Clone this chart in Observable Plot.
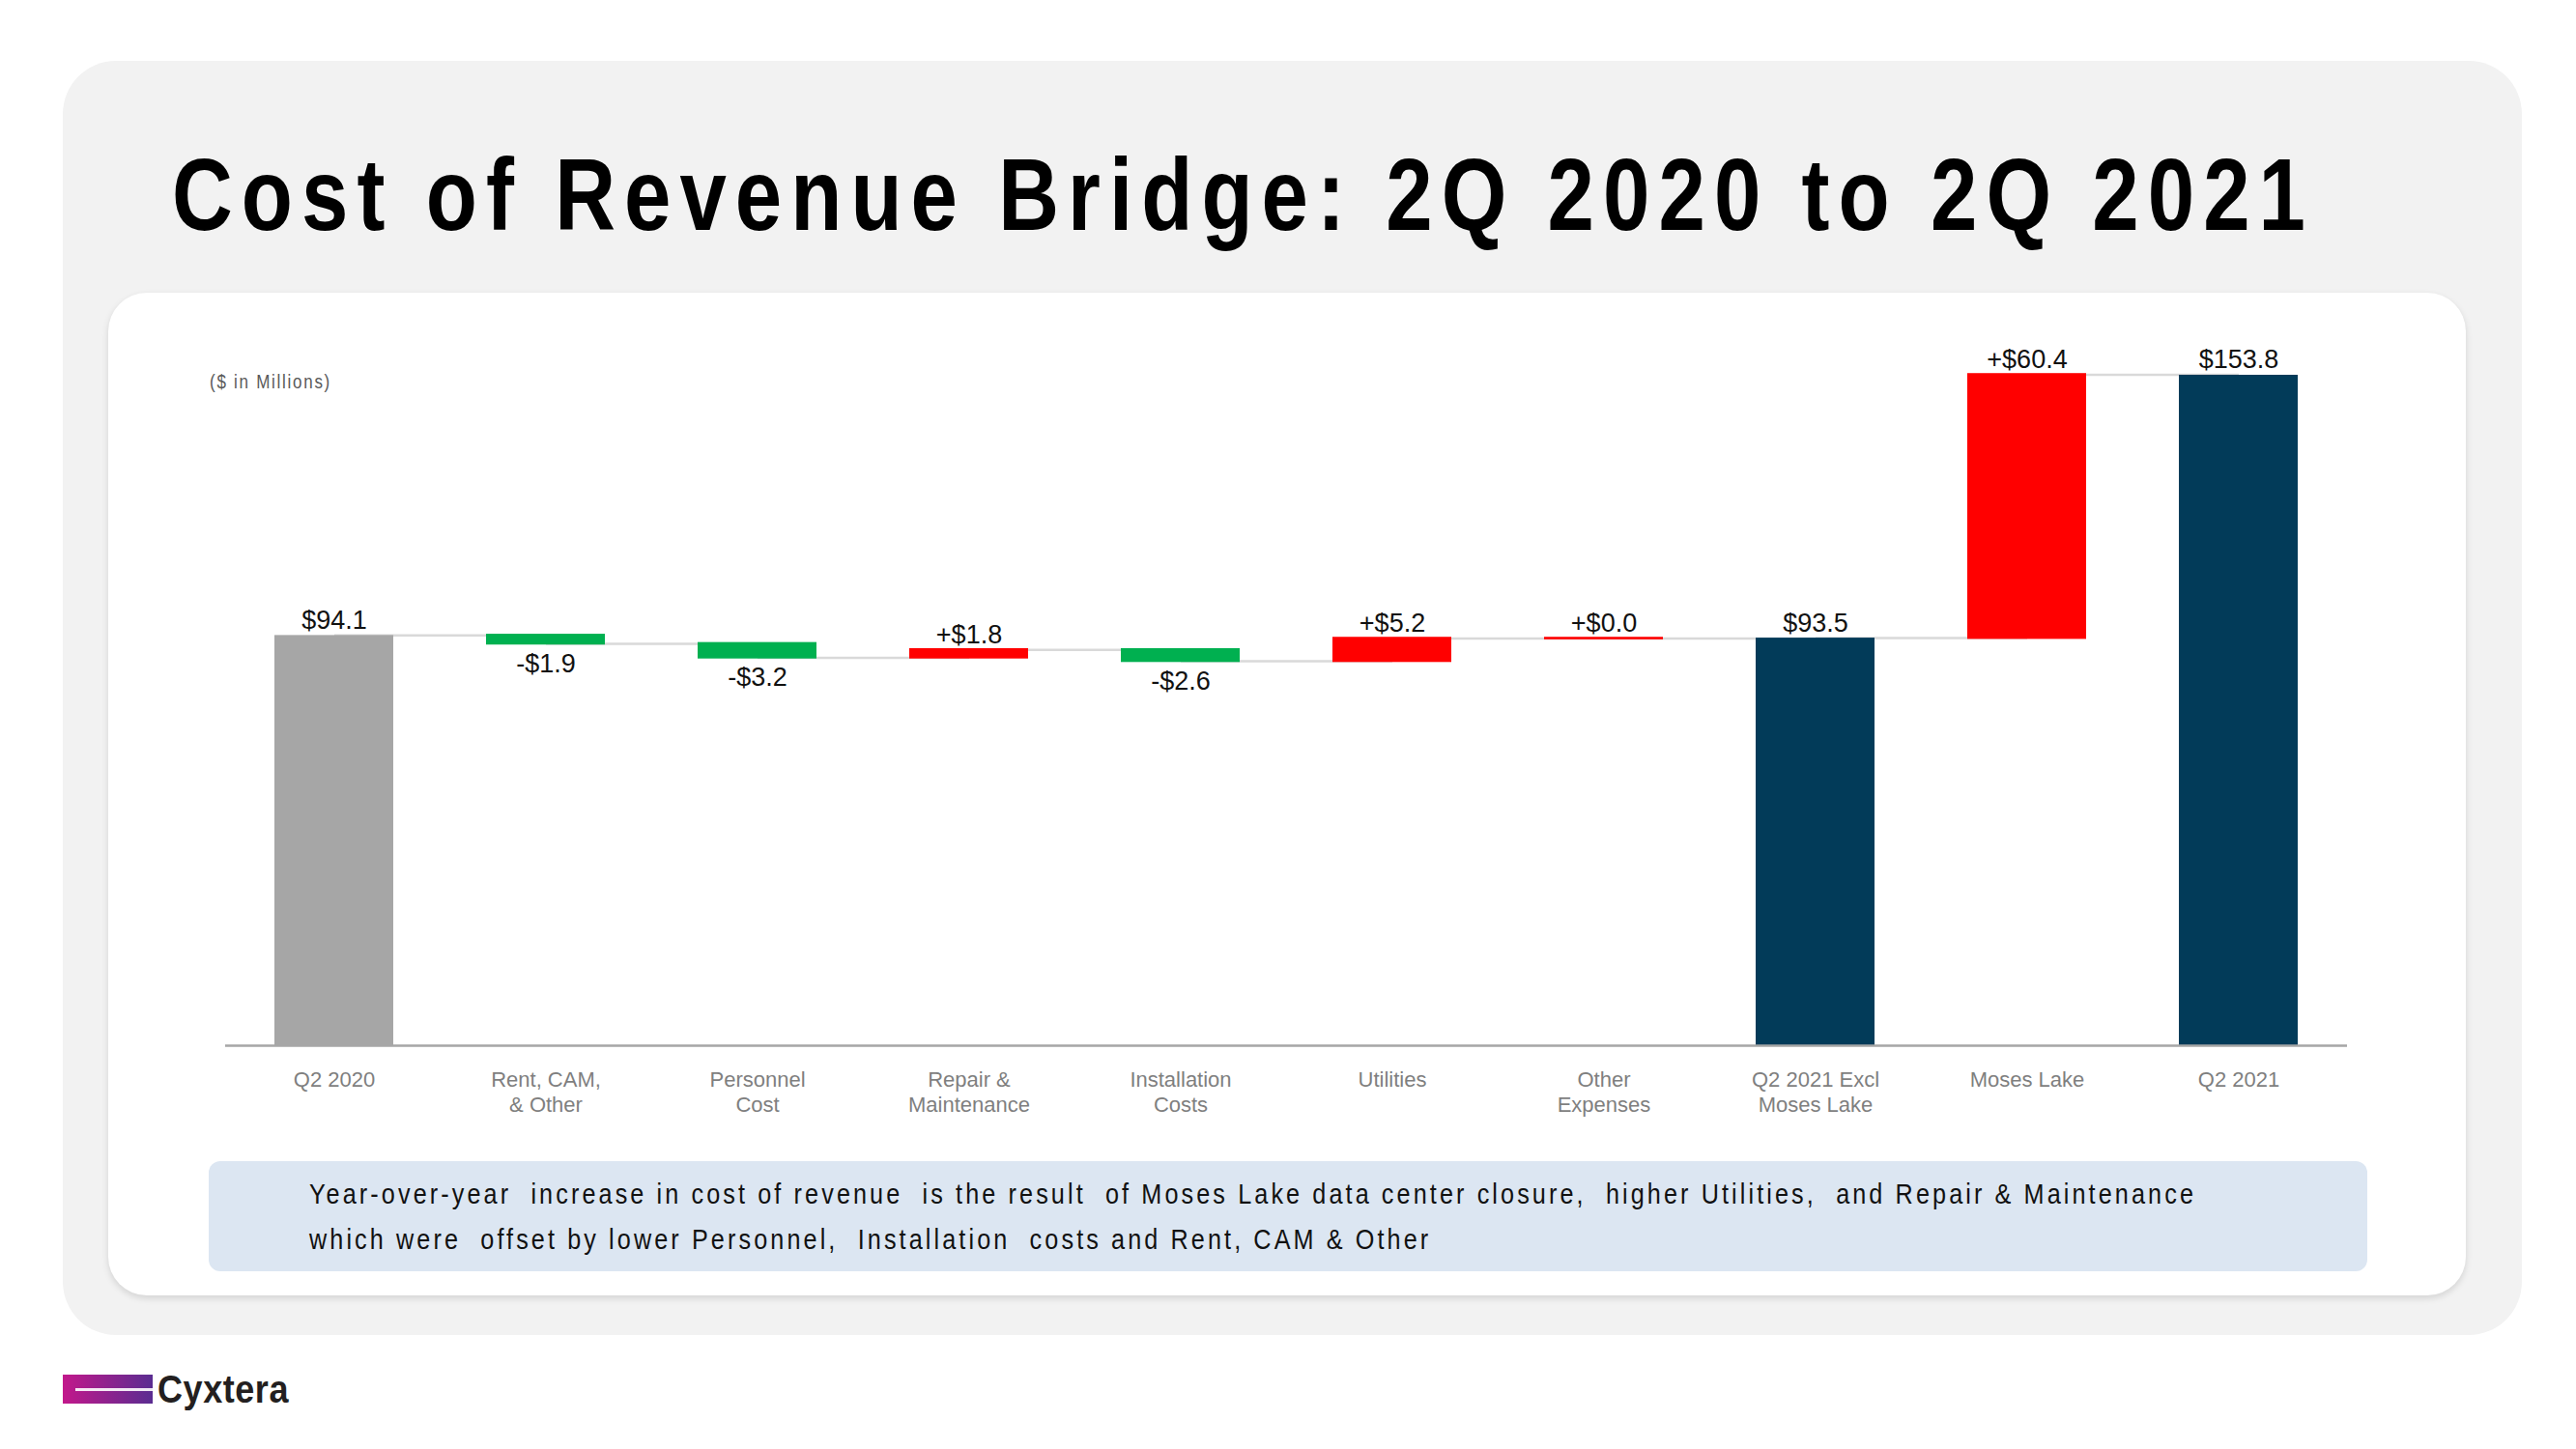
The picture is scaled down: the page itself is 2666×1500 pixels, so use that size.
<!DOCTYPE html>
<html>
<head>
<meta charset="utf-8">
<script src="https://cdn.jsdelivr.net/npm/d3@7"></script>
<script src="https://cdn.jsdelivr.net/npm/@observablehq/plot@0.6"></script>
<style>
  html, body { margin: 0; padding: 0; background: #ffffff; }
  body { width: 2666px; height: 1500px; position: relative; overflow: hidden;
         font-family: "Liberation Sans", Arial, sans-serif; }
  .abs { position: absolute; }
  #outer { left: 65px; top: 63px; width: 2545px; height: 1319px; background: #f2f2f2; border-radius: 55px; }
  #title { left: 178px; top: 148px; font-size: 106px; line-height: 106px; font-weight: bold; color: #000;
           white-space: nowrap; }
  #inner { left: 112px; top: 303px; width: 2440px; height: 1038px; background: #ffffff; border-radius: 40px;
           box-shadow: 0 3px 7px rgba(0,0,0,0.13); }
  #units { left: 217px; top: 385px; font-size: 20px; line-height: 20px; color: #595959; white-space: nowrap; }
  #chart { left: 200px; top: 340px; }
  #box { left: 216px; top: 1202px; width: 2234px; height: 114px; background: #dce6f2; border-radius: 12px; }
  #boxtext { left: 320px; top: 1212px; font-size: 30px; line-height: 47px; color: #111; white-space: nowrap; }
  #logobar { left: 65px; top: 1423px; width: 93px; height: 30px; background: linear-gradient(90deg, #c2188b, #5a2d91); }
  #logoline { left: 78px; top: 1437px; width: 80px; height: 3px; background: #ffffff; opacity: 0.9; }
  #logotext { left: 163px; top: 1418px; font-size: 40px; line-height: 40px;
              font-weight: bold; color: #231f20; }
</style>
</head>
<body>
<div id="outer" class="abs"></div>
<div id="title" class="abs">Cost of Revenue Bridge: 2Q 2020 to 2Q 2021</div>
<div id="inner" class="abs"></div>
<div id="units" class="abs">($ in Millions)</div>
<div id="chart" class="abs"></div>
<div id="box" class="abs"></div>
<div id="boxtext" class="abs">Year-over-year&nbsp; increase in cost of revenue&nbsp; is the result&nbsp; of Moses Lake data center closure,&nbsp; higher Utilities,&nbsp; and Repair &amp; Maintenance<br>which were&nbsp; offset by lower Personnel,&nbsp; Installation&nbsp; costs and Rent, CAM &amp; Other</div>
<div id="logobar" class="abs"></div>
<div id="logoline" class="abs"></div>
<div id="logotext" class="abs">Cyxtera</div>
<script>
// ---- data ----
const categories = ["Q2 2020", "Rent, CAM, & Other", "Personnel Cost", "Repair & Maintenance",
  "Installation Costs", "Utilities", "Other Expenses", "Q2 2021 Excl Moses Lake", "Moses Lake", "Q2 2021"];
const tickLabels = ["Q2 2020", "Rent, CAM,\n& Other", "Personnel\nCost", "Repair &\nMaintenance",
  "Installation\nCosts", "Utilities", "Other\nExpenses", "Q2 2021 Excl\nMoses Lake", "Moses Lake", "Q2 2021"];
const values = [94.1, -1.9, -3.2, 1.8, -2.6, 5.2, 0.0, 93.5, 60.4, 153.8];
const kinds = ["start", "delta", "delta", "delta", "delta", "delta", "delta", "total", "delta", "total"];
const valueLabels = ["$94.1", "-$1.9", "-$3.2", "+$1.8", "-$2.6", "+$5.2", "+$0.0", "$93.5", "+$60.4", "$153.8"];

// ---- condensed, letter-spaced text to match the slide typography ----
function fitText(el, target, sx, nChars) {
  el.style.letterSpacing = "0px";
  el.style.transform = "none";
  const w0 = el.getBoundingClientRect().width;
  const n = nChars || el.textContent.length;
  const ls = (target / sx - w0) / n;
  el.style.letterSpacing = ls + "px";
  el.style.transformOrigin = "0 0";
  el.style.transform = `scaleX(${sx})`;
}
fitText(document.getElementById("title"), 2217, 0.82);
fitText(document.getElementById("units"), 126, 0.85);
fitText(document.getElementById("boxtext"), 1953, 0.84,
  "Year-over-year  increase in cost of revenue  is the result  of Moses Lake data center closure,  higher Utilities,  and Repair & Maintenance".length);
fitText(document.getElementById("logotext"), 136, 0.9);

// ---- build waterfall table ----
let running = 0;
const rows = categories.map((c, i) => {
  const v = values[i], k = kinds[i];
  let lo, hi;
  if (k === "delta") { lo = running; hi = running + v; running = hi; }
  else { lo = 0; hi = v; running = v; }
  const color = k === "start" ? "#a6a6a6" : k === "total" ? "#023b59" : (v < 0 ? "#00b050" : "#ff0000");
  return { cat: c, y1: lo, y2: hi, end: running, kind: k, value: v, label: valueLabels[i], color,
           top: Math.max(lo, hi), bottom: Math.min(lo, hi) };
});
const links = rows.slice(0, -1).map((r, i) => ({ a: r.cat, b: rows[i + 1].cat, level: r.end }));
const tickMap = new Map(categories.map((c, i) => [c, tickLabels[i]]));

const chart = Plot.plot({
  width: 2300,
  height: 840,
  marginLeft: 33,
  marginRight: 71,
  marginTop: 20,
  marginBottom: 98,
  style: { background: "transparent", fontFamily: "'Liberation Sans', Arial, sans-serif" },
  x: { domain: categories, paddingInner: 0.44, paddingOuter: 0.22, axis: null },
  y: { domain: [0, 160], axis: null },
  marks: [
    Plot.link(links, { x1: "a", x2: "b", y1: "level", y2: "level", stroke: "#d9d9d9", strokeWidth: 2.5 }),
    Plot.barY(rows.filter(r => r.kind !== "delta"), { x: "cat", y1: "y1", y2: "y2", fill: "color" }),
    Plot.barY(rows.filter(r => r.kind === "delta"), { x: "cat", y1: "y1", y2: "y2", fill: "color", insetTop: -1.3, insetBottom: -1.3 }),
    Plot.ruleY([0], { stroke: "#a6a6a6", strokeWidth: 2.5 }),
    Plot.text(rows.filter(r => r.value >= 0), { x: "cat", y: "top", text: "label", dy: -7, lineAnchor: "bottom",
      fontSize: 27, fill: "#111" }),
    Plot.text(rows.filter(r => r.value < 0), { x: "cat", y: "bottom", text: "label", dy: 10, lineAnchor: "top",
      fontSize: 27, fill: "#111" }),
    Plot.axisX({ tickSize: 0, tickPadding: 25, tickFormat: d => tickMap.get(d), fontSize: 22, lineHeight: 1.15,
      fill: "#7f7f7f", label: null })
  ]
});
document.getElementById("chart").appendChild(chart);
</script>
</body>
</html>
